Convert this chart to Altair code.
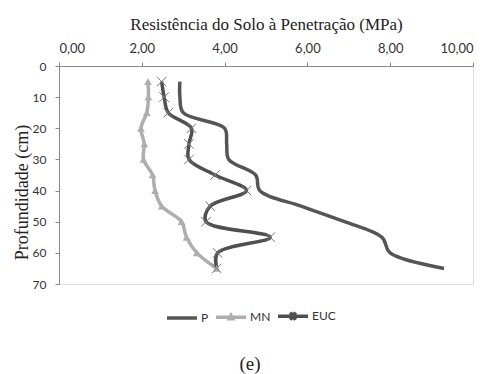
import altair as alt
import pandas as pd

# --- data ---
profundidade = [5, 10, 15, 20, 25, 30, 35, 40, 45, 50, 55, 60, 65]
P = [2.92, 2.92, 3.00, 4.00, 4.05, 4.10, 4.75, 4.85, 5.85, 6.90, 7.80, 8.00, 9.30]
MN = [2.15, 2.16, 2.12, 1.98, 2.06, 2.04, 2.26, 2.32, 2.48, 2.96, 3.08, 3.33, 3.81]
EUC = [2.48, 2.54, 2.64, 3.20, 3.14, 3.14, 3.77, 4.53, 3.65, 3.55, 5.10, 3.83, 3.81]

series_names = ["P", "MN", "EUC"]
series_colors = ["#555555", "#aeaeae", "#4f4f4f"]
x_ticks = [0, 2, 4, 6, 8, 10]
y_ticks = [0, 10, 20, 30, 40, 50, 60, 70]

rows = []
for name, vals in zip(series_names, [P, MN, EUC]):
    for d, v in zip(profundidade, vals):
        rows.append({"serie": name, "prof": d, "x": v})
df = pd.DataFrame(rows)

x_enc = alt.X(
    "x:Q",
    scale=alt.Scale(domain=[0, 10]),
    axis=alt.Axis(
        orient="top", values=x_ticks, grid=False,
        labelExpr="replace(format(datum.value, '.2f'), '.', ',')",
        labelFont="Lato", labelFontSize=13, labelColor="#333333", labelPadding=7,
        tickSize=4, tickColor="#888888", domainColor="#888888",
        title="Resistência do Solo à Penetração (MPa)",
        titleFont="Liberation Serif", titleFontSize=17, titleFontWeight="normal",
        titleColor="#222222", titleY=-37, titleBaseline="alphabetic",
    ),
)
y_enc = alt.Y(
    "prof:Q",
    scale=alt.Scale(domain=[0, 70], reverse=True),
    axis=alt.Axis(
        values=y_ticks, grid=False,
        labelFont="Lato", labelFontSize=12, labelColor="#333333", labelPadding=9,
        tickSize=4, tickColor="#888888", domainColor="#888888",
        title="Profundidade (cm)",
        titleFont="Liberation Serif", titleFontSize=18, titleFontWeight="normal",
        titleColor="#222222", titleX=-37, titleY=126, titleAngle=270,
        titleBaseline="middle", titleAlign="center",
    ),
)

color_scale = alt.Scale(domain=series_names, range=series_colors)
leg_paths = [
    "M-1,0H1",
    "M-1,0H1M-0.1,0.1L0,-0.1L0.1,0.1Z",
    "M-1,0H1M-0.17,-0.25L0.17,0.25M-0.17,0.25L0.17,-0.25",
]
leg_props = dict(
    orient="none", legendX=106, legendY=233, direction="horizontal", title=None,
    symbolSize=900, symbolStrokeWidth=3.5, symbolOpacity=1,
    labelFont="Lato", labelFontSize=12,
    labelColor="#333333", labelOffset=2, columnPadding=0,
)

base = alt.Chart(df)

lines = base.mark_line(interpolate="catmull-rom", strokeWidth=3.5).encode(
    x=x_enc, y=y_enc,
    color=alt.Color("serie:N", scale=color_scale, legend=alt.Legend(**leg_props)),
    order="prof:Q",
)

mn_pts = base.transform_filter(alt.datum.serie == "MN").mark_point(
    shape="triangle-up", filled=True, size=60, color="#aeaeae", opacity=1
).encode(x=x_enc, y=y_enc)

euc_pts = base.transform_filter(alt.datum.serie == "EUC").mark_point(
    shape="M-1,-1L1,1M-1,1L1,-1", filled=False, size=90, strokeWidth=1,
    color="#777777", opacity=1
).encode(x=x_enc, y=y_enc)

# legend carrier: zero-size points, only their legend symbols are visible
legend_layer = base.mark_point(filled=False, size=0, opacity=1, strokeWidth=3.5).encode(
    x=x_enc, y=y_enc,
    color=alt.Color("serie:N", scale=color_scale, legend=alt.Legend(**leg_props)),
    shape=alt.Shape("serie:N", scale=alt.Scale(domain=series_names, range=leg_paths),
                    legend=alt.Legend(**leg_props)),
)

chart = alt.layer(lines, mn_pts, euc_pts, legend_layer).properties(
    width=414, height=218,
    autosize=alt.AutoSizeParams(type="none"),
    padding={"left": 59, "top": 66, "right": 17, "bottom": 90},
    title=alt.TitleParams(
        "(e)", orient="bottom", frame="group", anchor="middle", offset=28, dx=-16,
        font="Liberation Serif", fontSize=19, fontWeight="normal", color="#222222",
    ),
).configure_view(stroke=None).configure(background="white")

chart.save("out.html", embed_options={"renderer": "svg", "actions": False})
